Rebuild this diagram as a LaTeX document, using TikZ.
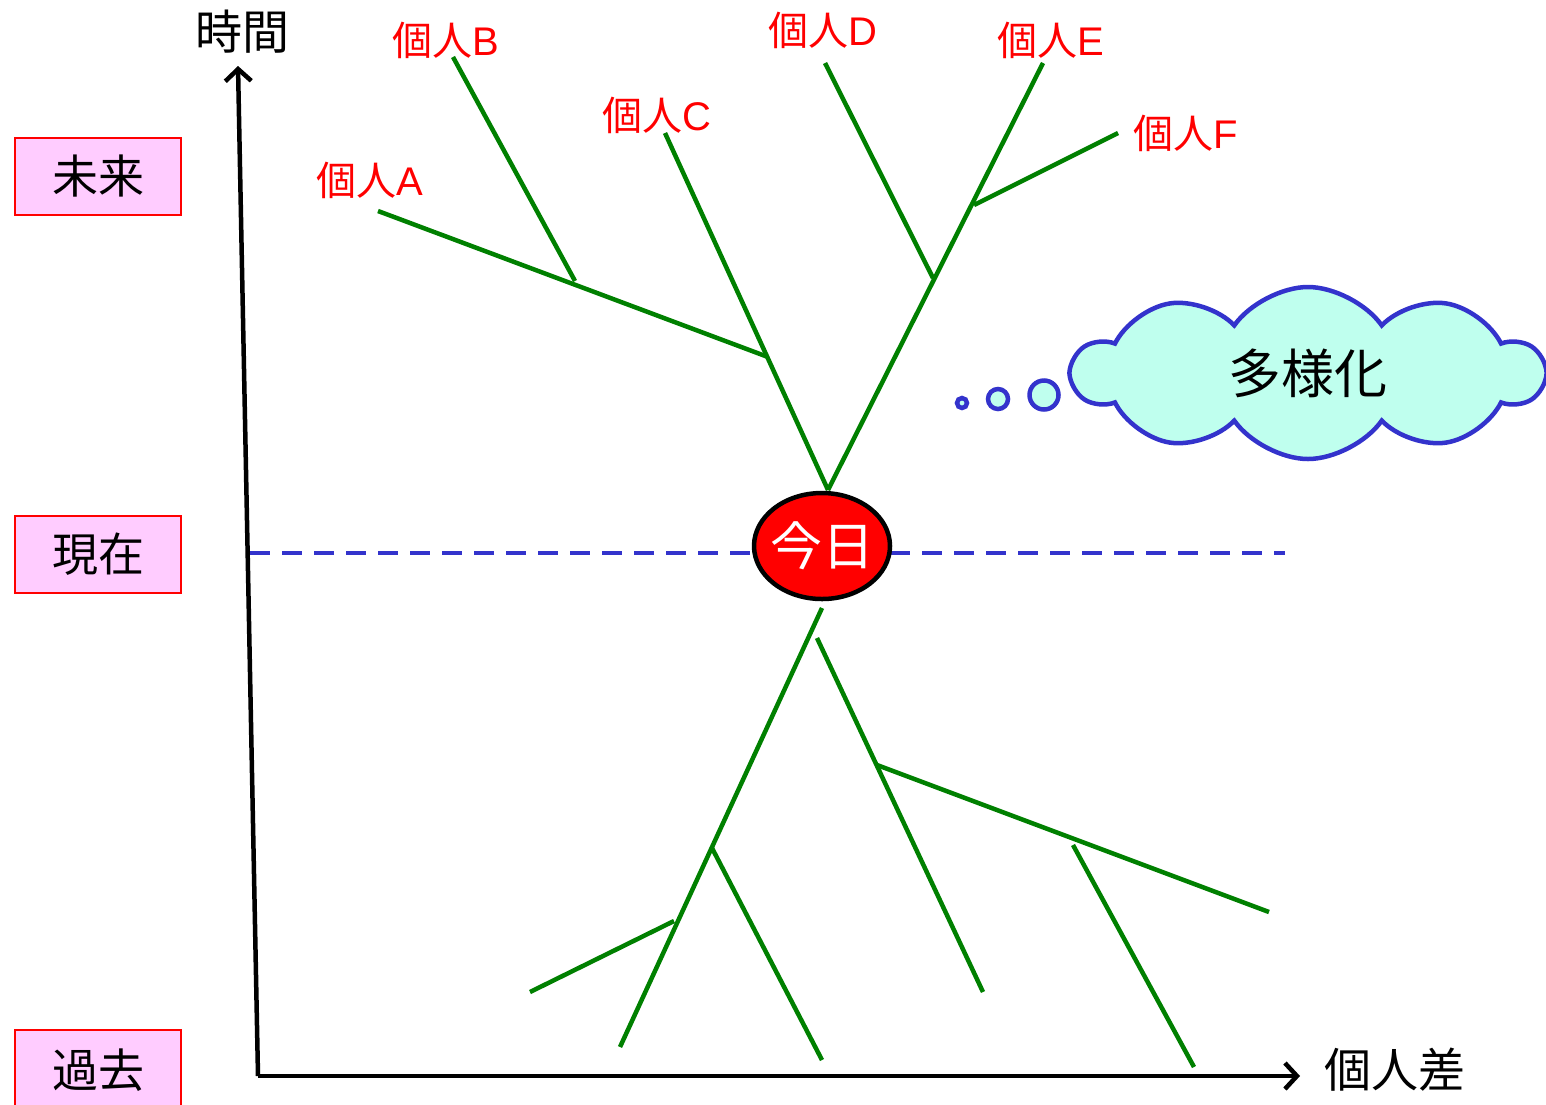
\documentclass[tikz,border=0pt]{standalone}
\usepackage{fontspec}
\setmainfont{Noto Sans CJK JP}
\newfontfamily\latf{Liberation Sans}
\usetikzlibrary{arrows.meta,shapes.symbols,shapes.geometric}
\definecolor{grn}{RGB}{0,128,0}
\definecolor{blu}{RGB}{51,51,204}
\definecolor{pinkbox}{RGB}{255,204,255}
\definecolor{cloudfill}{RGB}{191,255,238}
\begin{document}
\begin{tikzpicture}[x=1pt,y=-1pt,
  branch/.style={draw=grn,line width=4.5pt},
  axis/.style={draw=black,line width=4.5pt,-{Straight Barb[length=12pt,width=26pt,line width=4.5pt]}},
  lbl/.style={text=red,font=\fontsize{40}{44}\selectfont,inner sep=0pt},
  tbox/.style={draw=red,line width=2pt,fill=pinkbox,minimum width=166pt,minimum height=77pt,font=\fontsize{46}{50}\selectfont,inner sep=0pt},
  bubble/.style={draw=blu,line width=4.5pt,fill=cloudfill,circle,inner sep=0pt}]
\useasboundingbox (0,0) rectangle (1546,1104);
% time boxes
\node[tbox] (future) at (98,176) {未来};
\node[tbox] (present) at (98,554) {現在};
\node[tbox,minimum height=80pt,anchor=north] (past) at (98,1029) {過去};
% axes
\coordinate (origin) at (258,1076);
\coordinate (ytop) at (238,66);
\coordinate (xend) at (1300,1076);
\draw[axis] (origin) -- (ytop);
\draw[axis] (origin) -- (xend);
\node[font=\fontsize{47}{50}\selectfont,inner sep=0pt] (tlabel) at (242,32) {時間};
\node[font=\fontsize{47}{50}\selectfont,inner sep=0pt] (xlabel) at (1395,1070) {個人差};
% dashed present line
\coordinate (dl) at (250,553);
\coordinate (dr) at (1285,553);
\draw[draw=blu,line width=4.5pt,dash pattern=on 20pt off 12pt] (dl) -- (dr);
% upper tree
\coordinate (root) at (828,490);
\coordinate (j1) at (933,278);
\coordinate (j2) at (974,205);
\coordinate (j3) at (768,357);
\coordinate (j4) at (575,281);
\coordinate (eD) at (825,63);
\coordinate (eE) at (1043,63);
\coordinate (eF) at (1118,133);
\coordinate (eC) at (665,133);
\coordinate (eA) at (378,211);
\coordinate (eB) at (453,57);
\draw[branch] (root) -- (eE);
\draw[branch] (j1) -- (eD);
\draw[branch] (j2) -- (eF);
\draw[branch] (root) -- (eC);
\draw[branch] (j3) -- (eA);
\draw[branch] (j4) -- (eB);
% lower tree
\coordinate (b1) at (822,608);
\coordinate (b1e) at (620,1047);
\coordinate (b2) at (712,848);
\coordinate (b2e) at (822,1060);
\coordinate (b3) at (674,921);
\coordinate (b3e) at (530,992);
\coordinate (c1) at (817,638);
\coordinate (c1e) at (983,992);
\coordinate (c2) at (877,765);
\coordinate (c2e) at (1269,912);
\coordinate (c3) at (1073,845);
\coordinate (c3e) at (1194,1067);
\draw[branch] (b1) -- (b1e);
\draw[branch] (b2) -- (b2e);
\draw[branch] (b3) -- (b3e);
\draw[branch] (c1) -- (c1e);
\draw[branch] (c2) -- (c2e);
\draw[branch] (c3) -- (c3e);
% today
\node[ellipse,draw=black,line width=4.5pt,fill=red,minimum width=136pt,minimum height=106pt,text=white,font=\fontsize{52}{56}\selectfont,inner sep=-14pt] (today) at (822,546) {今日};
% labels
\node[lbl] (pA) at (370,180) {個人{\latf A}};
\node[lbl] (pB) at (446,40) {個人{\latf B}};
\node[lbl] (pC) at (657,115) {個人{\latf C}};
\node[lbl] (pD) at (823,30) {個人{\latf D}};
\node[lbl] (pE) at (1051,40) {個人{\latf E}};
\node[lbl] (pF) at (1186,133) {個人{\latf F}};
% cloud
\node[cloud,draw=blu,line width=4.5pt,fill=cloudfill,cloud puffs=10,cloud puff arc=110,aspect=2.8,minimum width=470pt,minimum height=172pt,font=\fontsize{53}{56}\selectfont,inner sep=0pt] (cl) at (1308,373) {多様化};
\node[bubble,minimum size=10pt] (s1) at (962,403) {};
\node[bubble,minimum size=20pt] (s2) at (998,399) {};
\node[bubble,minimum size=29pt] (s3) at (1044,395) {};
\end{tikzpicture}
\end{document}
